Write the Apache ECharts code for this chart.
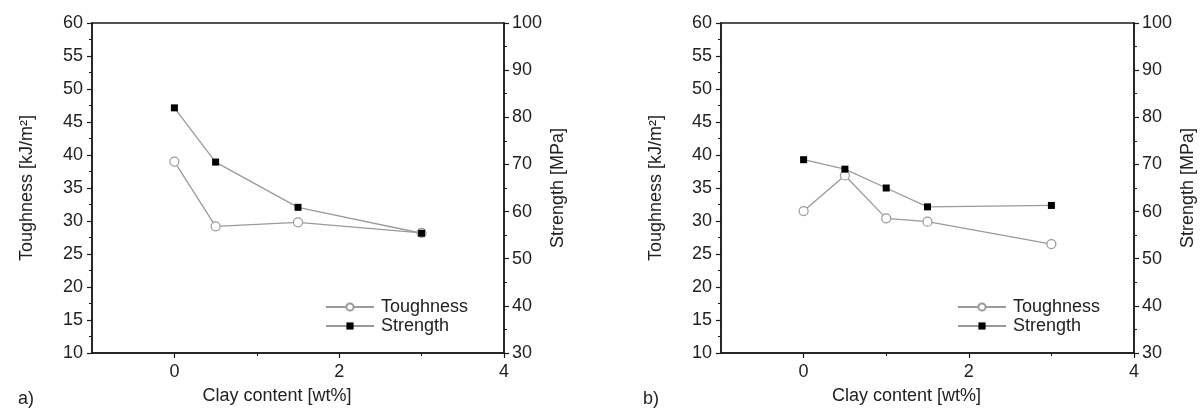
<!DOCTYPE html>
<html>
<head>
<meta charset="utf-8">
<script src="https://cdn.jsdelivr.net/npm/echarts@6/dist/echarts.min.js"></script>
<style>
html,body{margin:0;padding:0;background:#fff;}
#c{width:1200px;height:410px;}
</style>
</head>
<body>
<div id="c"></div>
<script>
// ---- data ----
var seriesNames = ['Toughness', 'Strength'];
var clayA = [0, 0.5, 1.5, 3];
var toughnessA = [39.0, 29.2, 29.8, 28.2];
var strengthA = [82.0, 70.5, 60.9, 55.4];
var clayB = [0, 0.5, 1, 1.5, 3];
var toughnessB = [31.5, 36.9, 30.4, 29.9, 26.5];
var strengthB = [71.0, 69.0, 65.0, 61.0, 61.3];
var xTickLabels = [0, 2, 4];
var xMinorTicks = [1, 3];
var panelLabels = ['a)', 'b)'];
var xTitle = 'Clay content [wt%]';
var yLeftTitle = 'Toughness [kJ/m\u00B2]';
var yRightTitle = 'Strength [MPa]';

function pairs(xs, ys) { return xs.map(function (x, i) { return [x, ys[i]]; }); }

var FONT = '"Liberation Sans", Arial, Helvetica, sans-serif';
var TXT = '#222';
var FS = 18;
var grids = [
  {left: 92, right: 696, top: 23, bottom: 55},
  {left: 721, right: 66, top: 23, bottom: 55}
];

var option = {
  animation: false,
  backgroundColor: '#fff',
  textStyle: {fontFamily: FONT, color: TXT},
  grid: grids.map(function (g) {
    return Object.assign({show: true, borderColor: '#1a1a1a', borderWidth: 1.5, backgroundColor: 'transparent'}, g);
  }),
  xAxis: [],
  yAxis: [],
  series: [],
  legend: [],
  graphic: []
};

[0, 1].forEach(function (gi) {
  option.xAxis.push({
    type: 'value', gridIndex: gi, min: -1, max: 4, interval: 1,
    name: xTitle, nameLocation: 'middle', nameGap: 34,
    nameTextStyle: {fontSize: FS, color: TXT, fontFamily: FONT, padding: [0, 42, 0, 0]},
    axisLine: {show: true, onZero: false, lineStyle: {color: '#1a1a1a', width: 1.5}},
    axisTick: {show: true, customValues: xTickLabels, length: 5, lineStyle: {color: '#1a1a1a', width: 1.2}},
    axisLabel: {customValues: xTickLabels, fontSize: FS, color: TXT, fontFamily: FONT, margin: 10},
    splitLine: {show: false}
  });
  option.xAxis.push({
    type: 'value', gridIndex: gi, min: -1, max: 4, interval: 1, position: 'bottom',
    axisLine: {show: false, onZero: false},
    axisTick: {show: true, customValues: xMinorTicks, length: 3, lineStyle: {color: '#1a1a1a', width: 1}},
    axisLabel: {show: false},
    splitLine: {show: false}
  });
  option.yAxis.push({
    type: 'value', gridIndex: gi, min: 10, max: 60, interval: 5, position: 'left',
    name: yLeftTitle, nameLocation: 'middle', nameGap: 56, nameRotate: 90,
    nameTextStyle: {fontSize: FS, color: TXT, fontFamily: FONT},
    axisLine: {show: true, onZero: false, lineStyle: {color: '#1a1a1a', width: 1.5}},
    axisTick: {show: true, length: 5, lineStyle: {color: '#1a1a1a', width: 1.2}},
    minorTick: {show: true, splitNumber: 2, length: 3, lineStyle: {color: '#1a1a1a', width: 1}},
    axisLabel: {fontSize: FS, color: TXT, fontFamily: FONT, margin: 9},
    splitLine: {show: false}
  });
  option.yAxis.push({
    type: 'value', gridIndex: gi, min: 30, max: 100, interval: 10, position: 'right',
    name: yRightTitle, nameLocation: 'middle', nameGap: 45, nameRotate: 90,
    nameTextStyle: {fontSize: FS, color: TXT, fontFamily: FONT},
    axisLine: {show: true, onZero: false, lineStyle: {color: '#1a1a1a', width: 1.5}},
    axisTick: {show: true, length: 5, lineStyle: {color: '#1a1a1a', width: 1.2}},
    minorTick: {show: true, splitNumber: 2, length: 3, lineStyle: {color: '#1a1a1a', width: 1}},
    axisLabel: {fontSize: FS, color: TXT, fontFamily: FONT, margin: 8},
    splitLine: {show: false}
  });
});

var sets = [
  {x: clayA, t: toughnessA, s: strengthA},
  {x: clayB, t: toughnessB, s: strengthB}
];
sets.forEach(function (d, gi) {
  option.series.push({
    name: seriesNames[0], type: 'line', xAxisIndex: gi * 2, yAxisIndex: gi * 2,
    data: pairs(d.x, d.t),
    symbol: 'circle', symbolSize: 9,
    lineStyle: {color: '#9a9a9a', width: 1.3},
    itemStyle: {color: '#ffffff', borderColor: '#9a9a9a', borderWidth: 1.2},
    z: 3
  });
  option.series.push({
    name: seriesNames[1], type: 'line', xAxisIndex: gi * 2, yAxisIndex: gi * 2 + 1,
    data: pairs(d.x, d.s),
    symbol: 'rect', symbolSize: 7,
    lineStyle: {color: '#9a9a9a', width: 1.3},
    itemStyle: {color: '#000000', borderColor: '#000000', borderWidth: 0},
    z: 4
  });
});

[320, 952].forEach(function (lx) {
  option.legend.push({
    orient: 'vertical', left: lx, top: 293,
    data: seriesNames,
    itemWidth: 48, itemHeight: 9, itemGap: 1,
    selectedMode: false,
    textStyle: {fontSize: FS, color: TXT, fontFamily: FONT, padding: [0, 0, 0, 2]}
  });
});

option.graphic = [
  {type: 'text', left: 18, top: 390, style: {text: panelLabels[0], font: FS + 'px ' + FONT, fill: TXT}},
  {type: 'text', left: 643, top: 390, style: {text: panelLabels[1], font: FS + 'px ' + FONT, fill: TXT}}
];

var chart = echarts.init(document.getElementById('c'), null, {renderer: 'canvas'});
chart.setOption(option);
</script>
</body>
</html>
